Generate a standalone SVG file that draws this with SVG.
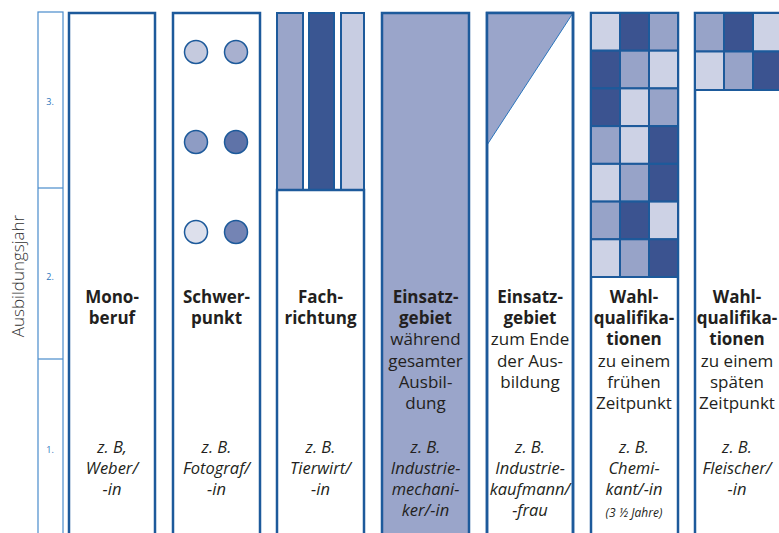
<svg xmlns="http://www.w3.org/2000/svg" width="779" height="533" viewBox="0 0 779 533">
<style>
.col{fill:#fff;stroke:#1d5a9b;stroke-width:2.5}
.cell{stroke:#1d5a9b;stroke-width:2}
.L{fill:#cdd2e5}.M{fill:#97a3c8}.D{fill:#3b5390}
.axis{fill:none;stroke:#4a8ccc;stroke-width:1.2}
.num{font-family:"Open Sans","Liberation Sans",sans-serif;font-size:9px;fill:#2a74bc;text-anchor:middle}
.t{font-family:"Open Sans","Liberation Sans",sans-serif;font-size:17px;fill:#231f20;text-anchor:middle}
.b{font-weight:bold}
.i{font-style:italic;font-size:16.5px}
.s{font-size:12px}
.circ{stroke:#1d5a9b;stroke-width:1.5}
</style>
<rect width="779" height="533" fill="#fff"/>
<g id="axis">
<rect class="axis" x="38" y="12" width="25" height="530"/>
<line class="axis" x1="38" y1="188" x2="63" y2="188"/>
<line class="axis" x1="38" y1="359" x2="63" y2="359"/>
<text class="num" x="50" y="105">3.</text>
<text class="num" x="50" y="280">2.</text>
<text class="num" x="50" y="453">1.</text>
<text class="t" transform="translate(24,276) rotate(-90)" style="font-size:17px;font-weight:300;fill:#333">Ausbildungsjahr</text>
</g>
<g id="monoberuf">
<rect class="col" x="69" y="13" width="86" height="540"/>
<text class="t b" x="112" y="303">Mono-</text>
<text class="t b" x="112" y="324">beruf</text>
<text class="t i" x="112" y="453">z. B,</text>
<text class="t i" x="112" y="474">Weber/</text>
<text class="t i" x="112" y="495">-in</text>
</g>
<g id="schwerpunkt">
<rect class="col" x="173" y="13" width="87" height="540"/>
<circle class="circ" cx="196" cy="52" r="11.5" fill="#c5cade"/>
<circle class="circ" cx="236" cy="52" r="11.5" fill="#a8b0cf"/>
<circle class="circ" cx="196" cy="142" r="11.5" fill="#8e9cc4"/>
<circle class="circ" cx="236" cy="142" r="11.5" fill="#5f73a8"/>
<circle class="circ" cx="196" cy="232" r="11.5" fill="#dde0ec"/>
<circle class="circ" cx="236" cy="232" r="11.5" fill="#7484b4"/>
<text class="t b" x="216.5" y="303">Schwer-</text>
<text class="t b" x="216.5" y="324">punkt</text>
<text class="t i" x="216.5" y="453">z. B.</text>
<text class="t i" x="216.5" y="474">Fotograf/</text>
<text class="t i" x="216.5" y="495">-in</text>
</g>
<g id="fachrichtung">
<rect class="cell" x="277" y="13" width="26" height="177" fill="#9aa5c9"/>
<rect class="cell" x="309" y="13" width="25" height="177" fill="#3a5692"/>
<rect class="cell" x="341" y="13" width="23" height="177" fill="#c8cde2"/>
<rect class="col" x="277" y="190" width="87" height="360"/>
<text class="t b" x="320.5" y="303">Fach-</text>
<text class="t b" x="320.5" y="324">richtung</text>
<text class="t i" x="320.5" y="453">z. B.</text>
<text class="t i" x="320.5" y="474">Tierwirt/</text>
<text class="t i" x="320.5" y="495">-in</text>
</g>
<g id="einsatz-gesamt">
<rect class="col" x="382" y="13" width="87" height="540" style="fill:#9aa5ca"/>
<text class="t b" x="425.5" y="303">Einsatz-</text>
<text class="t b" x="425.5" y="324">gebiet</text>
<text class="t" x="425.5" y="345">während</text>
<text class="t" x="425.5" y="367">gesamter</text>
<text class="t" x="425.5" y="388">Ausbil-</text>
<text class="t" x="425.5" y="409">dung</text>
<text class="t i" x="425.5" y="453">z. B.</text>
<text class="t i" x="425.5" y="474">Industrie-</text>
<text class="t i" x="425.5" y="495">mechani-</text>
<text class="t i" x="425.5" y="516">ker/-in</text>
</g>
<g id="einsatz-ende">
<rect class="col" x="487" y="13" width="86" height="540"/>
<polygon points="487,13 573,13 487,145" fill="#9aa5ca" stroke="#2a74bc" stroke-width="1"/>
<rect x="487" y="13" width="86" height="540" fill="none" stroke="#1d5a9b" stroke-width="2.5"/>
<text class="t b" x="530" y="303">Einsatz-</text>
<text class="t b" x="530" y="324">gebiet</text>
<text class="t" x="530" y="345">zum Ende</text>
<text class="t" x="530" y="367">der Aus-</text>
<text class="t" x="530" y="388">bildung</text>
<text class="t i" x="530" y="453">z. B.</text>
<text class="t i" x="530" y="474">Industrie-</text>
<text class="t i" x="530" y="495">kaufmann/</text>
<text class="t i" x="530" y="516">-frau</text>
</g>
<g id="wahl-frueh">
<rect class="col" x="591" y="13" width="87" height="540"/>
<g>
<rect class="cell L" x="591" y="13" width="29" height="37.7"/><rect class="cell D" x="620" y="13" width="29" height="37.7"/><rect class="cell M" x="649" y="13" width="29" height="37.7"/>
<rect class="cell D" x="591" y="50.7" width="29" height="37.7"/><rect class="cell M" x="620" y="50.7" width="29" height="37.7"/><rect class="cell L" x="649" y="50.7" width="29" height="37.7"/>
<rect class="cell D" x="591" y="88.4" width="29" height="37.7"/><rect class="cell L" x="620" y="88.4" width="29" height="37.7"/><rect class="cell M" x="649" y="88.4" width="29" height="37.7"/>
<rect class="cell M" x="591" y="126.1" width="29" height="37.7"/><rect class="cell L" x="620" y="126.1" width="29" height="37.7"/><rect class="cell D" x="649" y="126.1" width="29" height="37.7"/>
<rect class="cell L" x="591" y="163.9" width="29" height="37.7"/><rect class="cell M" x="620" y="163.9" width="29" height="37.7"/><rect class="cell D" x="649" y="163.9" width="29" height="37.7"/>
<rect class="cell M" x="591" y="201.6" width="29" height="37.7"/><rect class="cell D" x="620" y="201.6" width="29" height="37.7"/><rect class="cell L" x="649" y="201.6" width="29" height="37.7"/>
<rect class="cell L" x="591" y="239.3" width="29" height="37.7"/><rect class="cell M" x="620" y="239.3" width="29" height="37.7"/><rect class="cell D" x="649" y="239.3" width="29" height="37.7"/>
</g>
<text class="t b" x="634" y="303">Wahl-</text>
<text class="t b" x="634" y="324">qualifika-</text>
<text class="t b" x="634" y="345">tionen</text>
<text class="t" x="634" y="367">zu einem</text>
<text class="t" x="634" y="388">frühen</text>
<text class="t" x="634" y="409">Zeitpunkt</text>
<text class="t i" x="634" y="453">z. B.</text>
<text class="t i" x="634" y="474">Chemi-</text>
<text class="t i" x="634" y="495">kant/-in</text>
<text class="t i s" x="634" y="517">(3 ½ Jahre)</text>
</g>
<g id="wahl-spaet">
<rect class="col" x="695" y="13" width="87" height="540"/>
<rect class="cell M" x="695" y="13" width="29" height="38.5"/><rect class="cell D" x="724" y="13" width="29" height="38.5"/><rect class="cell L" x="753" y="13" width="29" height="38.5"/>
<rect class="cell L" x="695" y="51.5" width="29" height="38.5"/><rect class="cell M" x="724" y="51.5" width="29" height="38.5"/><rect class="cell D" x="753" y="51.5" width="29" height="38.5"/>
<text class="t b" x="737" y="303">Wahl-</text>
<text class="t b" x="737" y="324">qualifika-</text>
<text class="t b" x="737" y="345">tionen</text>
<text class="t" x="737" y="367">zu einem</text>
<text class="t" x="737" y="388">späten</text>
<text class="t" x="737" y="409">Zeitpunkt</text>
<text class="t i" x="737" y="453">z. B.</text>
<text class="t i" x="737" y="474">Fleischer/</text>
<text class="t i" x="737" y="495">-in</text>
</g>
<g id="connectors"></g>
</svg>
